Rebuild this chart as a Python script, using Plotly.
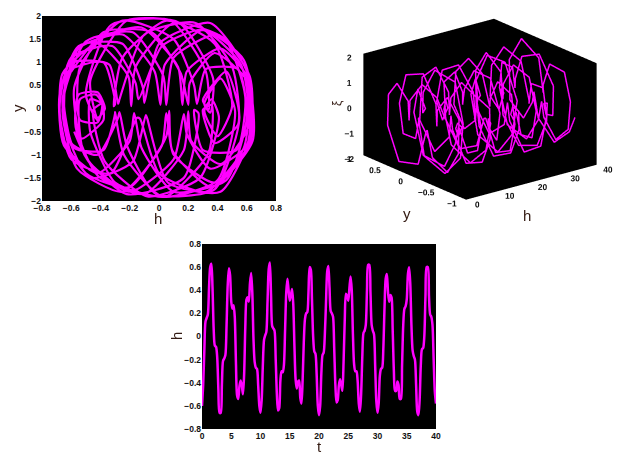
import plotly.graph_objects as go

t_step_tenths = 2
time_t = [i * t_step_tenths / 10 for i in range(201)]

h_vals = [
 -.60,-.42,-.12,.13,.16,.19,.42,.60,.63,.42,.06,-.08,-.09,-.18,-.46,-.66,-.66,-.42,-.21,-.19,
 -.16,.10,.45,.59,.53,.30,.24,.27,.17,-.22,-.51,-.54,-.43,-.38,-.42,-.50,-.33,.08,.32,.34,
 .30,.46,.55,.38,-.02,-.22,-.27,-.28,-.42,-.60,-.66,-.55,-.25,-.03,.01,.04,.30,.58,.64,.36,
 .09,.07,.05,-.20,-.50,-.64,-.62,-.38,-.30,-.31,-.25,.05,.38,.50,.40,.31,.36,.41,.28,-.08,
 -.37,-.45,-.39,-.38,-.53,-.58,-.38,-.05,.15,.20,.21,.38,.60,.58,.32,.00,-.13,-.15,-.33,-.60,
 -.68,-.60,-.32,-.16,-.14,.02,.30,.56,.61,.42,.22,.20,.17,-.10,-.42,-.57,-.55,-.42,-.37,-.42,
 -.47,-.22,.14,.37,.35,.31,.42,.52,.40,.02,-.24,-.30,-.30,-.38,-.58,-.65,-.50,-.18,.03,.05,
 .10,.40,.62,.62,.38,.10,.05,.02,-.25,-.56,-.66,-.58,-.34,-.28,-.27,-.10,.25,.50,.54,.38,
 .30,.36,.34,.05,-.30,-.47,-.47,-.39,-.42,-.54,-.54,-.25,.10,.24,.26,.32,.54,.60,.46,.10,
 -.12,-.17,-.20,-.42,-.65,-.68,-.55,-.25,-.11,-.10,.00,.35,.60,.60,.35,.19,.17,.10,-.20,-.48,
 -.58,
]

y_vals = [
 .80,1.50,1.75,.90,.08,.80,1.30,.70,-.55,-1.80,-1.60,-.22,-.14,-1.15,-1.50,-.60,.75,1.40,.70,.05,
 .90,1.85,1.50,.25,-.90,-.90,-.03,-.10,-1.50,-1.85,-1.00,.20,.30,.03,-.25,.30,1.80,1.90,.80,-.03,
 .18,.80,-.20,-1.75,-1.85,-.80,-.08,-.20,-1.00,-.75,.15,1.30,1.60,.80,.08,.95,1.70,1.05,-.70,-1.70,
 -.90,-.05,-.60,-1.70,-1.40,-.40,.80,1.00,.10,.05,1.10,1.90,1.40,.05,-.60,-.05,.20,-.20,-1.50,-1.90,
 -1.15,-.03,.10,-.25,-.65,.45,1.65,1.65,.75,.08,.55,1.20,.60,-.85,-1.80,-1.40,-.22,-.20,-1.40,-1.10,
 .00,1.10,1.35,.55,.20,1.35,1.70,.95,-.40,-1.20,-.70,-.06,-.90,-1.85,-1.45,-.40,.30,.35,.00,-.20,
 .60,1.90,1.85,.65,-.09,.10,.65,-.05,-1.55,-1.90,-1.00,-.08,-.10,-.90,-.85,.25,1.45,1.65,.70,.08,
 1.10,1.60,.70,-.75,-1.60,-1.00,-.10,-.80,-1.80,-1.30,-.05,1.00,.95,.10,.20,1.60,1.85,.90,-.35,-.75,
 -.03,.08,-.95,-1.90,-1.60,-.50,.20,.10,-.30,-.25,.90,1.90,1.50,.50,.10,.85,.85,-.20,-1.55,-1.80,
 -.85,-.10,-.70,-1.40,-.80,.30,1.35,1.40,.45,.12,1.40,1.85,.80,-.80,-1.30,-.55,-.12,-1.10,-1.80,-1.15,
 -.50,
]

h_ticks = [-0.8, -0.6, -0.4, -0.2, 0, 0.2, 0.4, 0.6, 0.8]
y_ticks = [-2, -1.5, -1, -0.5, 0, 0.5, 1, 1.5, 2]
t_ticks = [0, 5, 10, 15, 20, 25, 30, 35, 40]
scene_t_ticks = [0, 10, 20, 30, 40]
scene_h_ticks = [-1, -0.5, 0, 0.5, 1]
scene_y_ticks = [-2, -1, 0, 1, 2]

MAG = "#ff00ff"
OFF = 8
W, H = 622 - OFF, 454 - OFF
TICK = dict(family="Liberation Sans", size=8.5, color="#111111", weight="bold")
TICK3D = dict(family="Liberation Sans", size=10, color="#111111", weight="bold")
TITLE = dict(family="Liberation Sans", size=15, color="#331a12")

def domx(a, b):
    return [(a - OFF) / W, (b - OFF) / W]

def domy(top, bottom):
    return [1 - (bottom - OFF) / H, 1 - (top - OFF) / H]

def label(text, px, py, angle=0, size=None):
    font = dict(TITLE) if size is None else dict(TITLE, size=size)
    return dict(text=text, x=(px - OFF) / W, y=1 - (py - OFF) / H, xref="paper", yref="paper",
                showarrow=False, textangle=angle, font=font, xanchor="center", yanchor="middle")

fig = go.Figure()
fig.add_trace(go.Scatter(x=h_vals, y=y_vals, mode="lines", xaxis="x", yaxis="y",
                         line=dict(color=MAG, width=2.2, shape="spline", smoothing=0.6)))
fig.add_trace(go.Scatter(x=time_t, y=h_vals, mode="lines", xaxis="x2", yaxis="y2",
                         line=dict(color=MAG, width=2.5, shape="spline", smoothing=0.8)))
fig.add_trace(go.Scatter3d(x=time_t, y=h_vals, z=y_vals, mode="lines", scene="scene",
                           line=dict(color=MAG, width=3)))

def ax(ticks, rng, domain, anchor):
    return dict(range=rng, tickvals=ticks, domain=domain, anchor=anchor, showgrid=False,
                zeroline=False, showline=False, ticks="", tickfont=TICK, automargin=False)

r = 1.15
zoom3d = 1.49
cz = -0.098
scene_axis = dict(showgrid=False, zeroline=False, showline=False, showbackground=True,
                  backgroundcolor="#000000", ticks="", tickfont=TICK3D, title=dict(text=""),
                  showspikes=False, tickangle=0)

fig.update_layout(
    width=W, height=H, autosize=False, showlegend=False,
    margin=dict(l=0, r=0, t=0, b=0),
    paper_bgcolor="white", plot_bgcolor="black",
    xaxis=ax(h_ticks, [-0.8, 0.8], domx(42, 276), "y"),
    yaxis=ax(y_ticks, [-2, 2], domy(16, 201), "x"),
    xaxis2=ax(t_ticks, [0, 40], domx(202, 436), "y2"),
    yaxis2=ax(h_ticks, [-0.8, 0.8], domy(244, 429), "x2"),
    scene=dict(
        domain=dict(x=domx(337.5, 621.5), y=domy(8, 231)),
        aspectmode="manual", aspectratio=dict(x=zoom3d, y=zoom3d, z=0.65 * zoom3d),
        camera=dict(eye=dict(x=-0.58 * r, y=-0.738 * r, z=0.34 * r + cz),
                    center=dict(x=0, y=0, z=cz), up=dict(x=0, y=0, z=1),
                    projection=dict(type="orthographic")),
        xaxis=dict(scene_axis, range=[0, 40], tickvals=scene_t_ticks),
        yaxis=dict(scene_axis, range=[-1, 1], tickvals=scene_h_ticks),
        zaxis=dict(scene_axis, range=[-2, 2], tickvals=scene_y_ticks),
        bgcolor="white",
    ),
    annotations=[
        label("h", 158, 218),
        label("y", 18, 108, angle=-90),
        label("t", 319, 446),
        label("h", 176, 336, angle=-90),
        label("h", 527, 215),
        label("y", 407, 213),
        label("ξ", 337, 103, angle=-90, size=12),
    ],
)

fig.write_html("out.html")
